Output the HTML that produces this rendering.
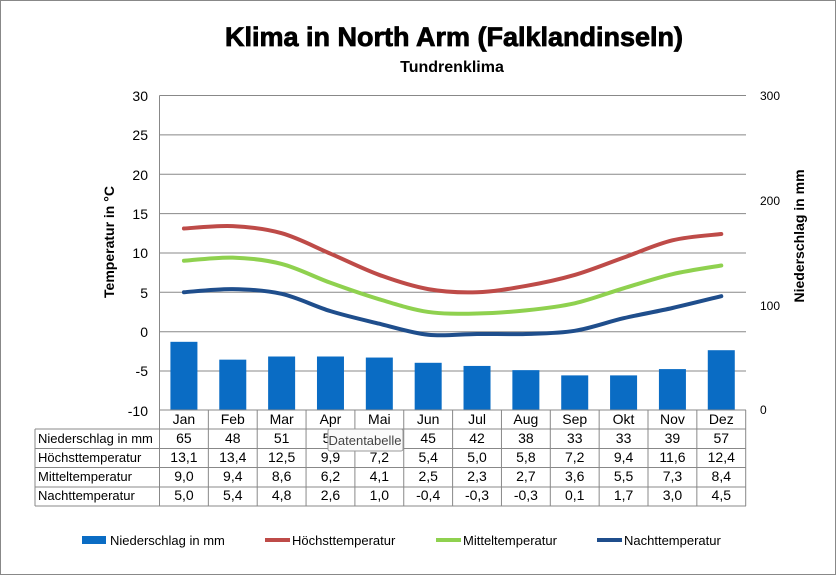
<!DOCTYPE html>
<html><head><meta charset="utf-8"><style>
body{margin:0;background:#fff;}
svg text{font-family:"Liberation Sans",Arial,sans-serif;}
</style></head><body>
<svg id="s" width="836" height="575" viewBox="0 0 836 575" xmlns="http://www.w3.org/2000/svg">
<rect x="0.5" y="0.5" width="835" height="574" fill="#fff" stroke="#888"/>
<text x="454" y="46" font-size="27" font-weight="bold" text-anchor="middle" stroke="#000" stroke-width="0.8">Klima in North Arm (Falklandinseln)</text>
<text x="452" y="72" font-size="16" font-weight="bold" text-anchor="middle">Tundrenklima</text>
<g stroke="#888" stroke-width="1">
<line x1="159.5" y1="95.5" x2="746" y2="95.5"/>
<line x1="159.5" y1="134.9" x2="746" y2="134.9"/>
<line x1="159.5" y1="174.3" x2="746" y2="174.3"/>
<line x1="159.5" y1="213.6" x2="746" y2="213.6"/>
<line x1="159.5" y1="253" x2="746" y2="253"/>
<line x1="159.5" y1="292.3" x2="746" y2="292.3"/>
<line x1="159.5" y1="331.7" x2="746" y2="331.7"/>
<line x1="159.5" y1="371" x2="746" y2="371"/>
<line x1="159.5" y1="95.5" x2="159.5" y2="410"/>
</g>
<g font-size="14" text-anchor="end" fill="#000">
<text x="148" y="101">30</text><text x="148" y="140">25</text><text x="148" y="180">20</text>
<text x="148" y="219">15</text><text x="148" y="258">10</text><text x="148" y="298">5</text>
<text x="148" y="337">0</text><text x="148" y="376">-5</text><text x="148" y="416">-10</text>
</g>
<g font-size="12" fill="#000">
<text x="760" y="100">300</text><text x="760" y="205">200</text><text x="760" y="310">100</text><text x="760" y="414">0</text>
</g>
<text transform="translate(114,242) rotate(-90)" font-size="14" font-weight="bold" text-anchor="middle">Temperatur in °C</text>
<text transform="translate(804,236) rotate(-90)" font-size="14" font-weight="bold" text-anchor="middle">Niederschlag in mm</text>
<g id="bars" fill="#0a6cc4"></g>
<g id="lines" fill="none" stroke-width="4" stroke-linecap="round"></g>
<g stroke="#888" stroke-width="1" id="grid"></g>
<g id="tt" font-size="14" text-anchor="middle"></g>
<g font-size="13">
<text x="38" y="443">Niederschlag in mm</text>
<text x="38" y="462">Höchsttemperatur</text>
<text x="38" y="481">Mitteltemperatur</text>
<text x="38" y="500">Nachttemperatur</text>
</g>
<rect x="328" y="429" width="75" height="22" rx="2" fill="#fafafa" stroke="#999"/>
<text x="365" y="445" font-size="13" text-anchor="middle" fill="#444">Datentabelle</text>
<rect x="82" y="536" width="24" height="8" fill="#0a6cc4"/>
<text x="110" y="545" font-size="13">Niederschlag in mm</text>
<line x1="265" y1="540" x2="290" y2="540" stroke="#be4b48" stroke-width="4"/>
<text x="292" y="545" font-size="13">Höchsttemperatur</text>
<line x1="436" y1="540" x2="461" y2="540" stroke="#8fd14f" stroke-width="4"/>
<text x="463" y="545" font-size="13">Mitteltemperatur</text>
<line x1="597" y1="540" x2="622" y2="540" stroke="#1f4e8c" stroke-width="4"/>
<text x="624" y="545" font-size="13">Nachttemperatur</text>
</svg>
<script>
var NS="http://www.w3.org/2000/svg";
function el(p,n,a,t){var e=document.createElementNS(NS,n);for(var k in a)e.setAttribute(k,a[k]);if(t!=null)e.textContent=t;document.getElementById(p).appendChild(e);}
var L=159.5,W=48.85;function cx(i){return L+W/2+i*W;}
function ty(v){return 95.5+(30-v)*7.87;}
var pr=[65,48,51,51,50,45,42,38,33,33,39,57];
var hi=[13.1,13.4,12.5,9.9,7.2,5.4,5.0,5.8,7.2,9.4,11.6,12.4];
var mi=[9.0,9.4,8.6,6.2,4.1,2.5,2.3,2.7,3.6,5.5,7.3,8.4];
var lo=[5.0,5.4,4.8,2.6,1.0,-0.4,-0.3,-0.3,0.1,1.7,3.0,4.5];
pr.forEach(function(v,i){var h=v*1.049;el("bars","rect",{x:cx(i)-13.5,y:410-h,width:27,height:h});});
function path(d){var p=d.map(function(v,i){return[cx(i),ty(v)];});var s="M"+p[0][0]+","+p[0][1];
for(var i=0;i<p.length-1;i++){var p0=p[i-1]||p[i],p1=p[i],p2=p[i+1],p3=p[i+2]||p2;var t=1/6;
s+=" C"+(p1[0]+(p2[0]-p0[0])*t)+","+(p1[1]+(p2[1]-p0[1])*t)+" "+(p2[0]-(p3[0]-p1[0])*t)+","+(p2[1]-(p3[1]-p1[1])*t)+" "+p2[0]+","+p2[1];}return s;}
el("lines","path",{d:path(hi),stroke:"#be4b48"});
el("lines","path",{d:path(mi),stroke:"#8fd14f"});
el("lines","path",{d:path(lo),stroke:"#1f4e8c"});
var R=746,ys=[410,429,448.5,467.5,487,506];
el("grid","line",{x1:L,y1:410,x2:R,y2:410});
el("grid","line",{x1:L,y1:410,x2:L,y2:506});
for(var j=1;j<ys.length;j++)el("grid","line",{x1:35,y1:ys[j],x2:R,y2:ys[j]});
el("grid","line",{x1:35,y1:429,x2:35,y2:506});
for(var i=1;i<=12;i++)el("grid","line",{x1:L+i*W,y1:410,x2:L+i*W,y2:506});
var m=["Jan","Feb","Mar","Apr","Mai","Jun","Jul","Aug","Sep","Okt","Nov","Dez"];
function f(v){return v.toFixed(1).replace(".",",");}
for(var i=0;i<12;i++){el("tt","text",{x:cx(i),y:424},m[i]);
el("tt","text",{x:cx(i),y:443},pr[i]);el("tt","text",{x:cx(i),y:462},f(hi[i]));
el("tt","text",{x:cx(i),y:481},f(mi[i]));el("tt","text",{x:cx(i),y:500},f(lo[i]));}
</script>
</body></html>
